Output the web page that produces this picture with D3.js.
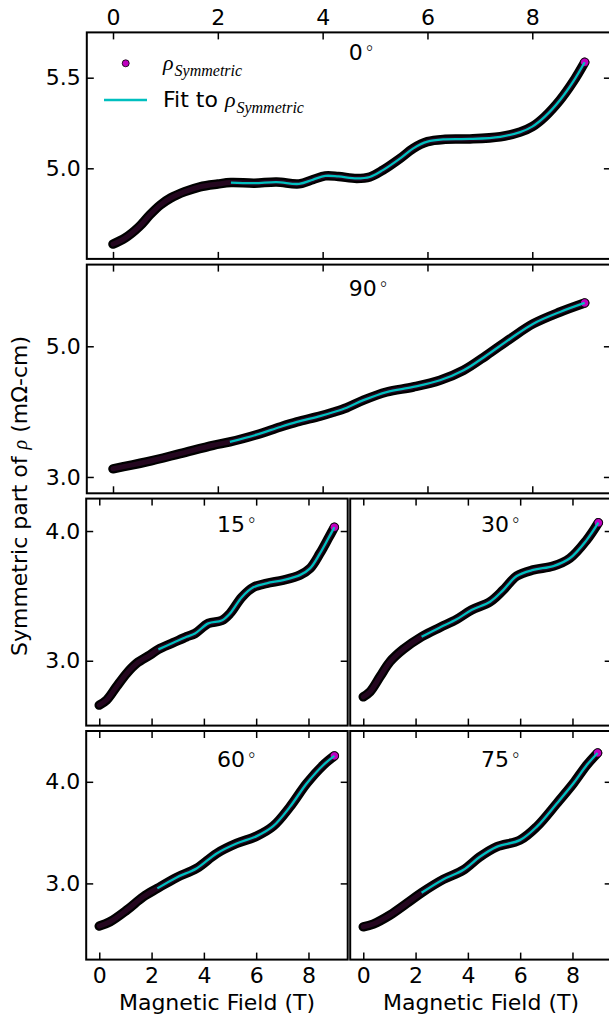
<!DOCTYPE html>
<html lang="en">
<head>
<meta charset="UTF-8">
<title>symmetric part of rho</title>
<script src="https://cdnjs.cloudflare.com/ajax/libs/d3/7.8.5/d3.min.js"></script>
<style>
  * { margin: 0; padding: 0; }
  body { background: #fff; }
  svg { display: block; font-family: "DejaVu Sans", sans-serif; }
  .spine { fill: none; stroke: #000; stroke-width: 2; }
  .axis path.domain { display: none; }
  .axis line { stroke: #000; stroke-width: 1.5; }
  .axis text { font-family: "DejaVu Sans", sans-serif; font-size: 22px; fill: #000; }
  .math { font-family: "Liberation Serif", serif; font-style: italic; }
</style>
</head>
<body>
<svg id="chart" width="609" height="1019"></svg>
<script>
// values (field in T, rho in mOhm-cm)
var fieldTicks = [0, 2, 4, 6, 8];
var fitStart = 2.2;

var field0 = [0, 0.23, 0.5, 0.7, 0.9, 1.1, 1.37, 1.66, 2.0, 2.25, 2.7, 3.12, 3.55, 3.82, 4.05, 4.3, 4.65, 4.9, 5.15, 5.48, 5.73, 6.0, 6.34, 6.81, 7.39, 7.77, 8.0, 8.24, 8.53, 8.78, 9.0];
var rho0   = [4.582, 4.615, 4.678, 4.742, 4.797, 4.836, 4.871, 4.898, 4.913, 4.921, 4.918, 4.924, 4.914, 4.938, 4.958, 4.955, 4.944, 4.952, 4.99, 5.055, 5.11, 5.147, 5.16, 5.162, 5.174, 5.20, 5.23, 5.285, 5.377, 5.478, 5.585];

var field90 = [0, 0.64, 1.28, 1.91, 2.23, 2.74, 3.19, 3.51, 3.95, 4.2, 4.46, 4.78, 5.22, 5.73, 6.24, 6.69, 7.13, 7.58, 8.02, 8.53, 9.0];
var rho90   = [3.125, 3.23, 3.357, 3.485, 3.536, 3.647, 3.765, 3.842, 3.93, 3.99, 4.06, 4.175, 4.30, 4.377, 4.48, 4.633, 4.863, 5.116, 5.346, 5.525, 5.663];

var field15 = [0, 0.28, 0.66, 1.05, 1.43, 1.94, 2.26, 2.83, 3.34, 3.66, 4.17, 4.68, 5.0, 5.45, 5.89, 6.4, 7.04, 7.67, 8.06, 8.44, 8.76, 8.99];
var rho15   = [2.658, 2.697, 2.80, 2.903, 2.98, 3.044, 3.088, 3.139, 3.185, 3.21, 3.288, 3.31, 3.365, 3.49, 3.566, 3.597, 3.622, 3.66, 3.712, 3.828, 3.944, 4.029];

var field30 = [0, 0.26, 0.64, 1.02, 1.53, 2.23, 2.93, 3.57, 4.14, 4.85, 5.35, 5.87, 6.5, 7.27, 7.9, 8.54, 8.99];
var rho30   = [2.722, 2.761, 2.877, 2.992, 3.088, 3.185, 3.257, 3.319, 3.391, 3.455, 3.545, 3.653, 3.70, 3.73, 3.79, 3.93, 4.064];

var field60 = [0, 0.41, 1.05, 1.68, 2.22, 2.96, 3.72, 4.49, 5.25, 6.02, 6.65, 7.29, 7.93, 8.56, 8.99];
var rho60   = [2.58, 2.622, 2.737, 2.868, 2.951, 3.059, 3.147, 3.295, 3.393, 3.465, 3.563, 3.753, 3.983, 4.163, 4.255];

var field75 = [0, 0.38, 1.02, 1.66, 2.23, 3.06, 3.82, 4.46, 5.1, 5.99, 6.63, 7.4, 8.03, 8.54, 8.96];
var rho75   = [2.573, 2.60, 2.688, 2.803, 2.908, 3.039, 3.131, 3.262, 3.36, 3.426, 3.557, 3.787, 3.983, 4.163, 4.284];

var angleLabels = ["0", "90", "15", "30", "60", "75"];

// layout per panel
var panels = [
  { field: field0,  rho: rho0,  yDomain: [4.5, 5.75],  yTicks: [5.0, 5.5], px: [86.8, 610.9], py: [32.4, 258.9], top: true,  bottom: false, left: true,  tagDy: 28 },
  { field: field90, rho: rho90, yDomain: [2.75, 6.25], yTicks: [3.0, 5.0], px: [86.8, 610.9], py: [264.6, 493.3], top: false, bottom: false, left: true,  tagDy: 31 },
  { field: field15, rho: rho15, yDomain: [2.5, 4.25],  yTicks: [3.0, 4.0], px: [86.2, 347.7], py: [498.6, 725.6], top: false, bottom: false, left: true,  tagDy: 33 },
  { field: field30, rho: rho30, yDomain: [2.5, 4.25],  yTicks: [3.0, 4.0], px: [350.2, 611.7], py: [498.6, 725.6], top: false, bottom: false, left: false, tagDy: 33 },
  { field: field60, rho: rho60, yDomain: [2.25, 4.5],  yTicks: [3.0, 4.0], px: [86.2, 347.7], py: [731.0, 959.6], top: false, bottom: true,  left: true,  tagDy: 36 },
  { field: field75, rho: rho75, yDomain: [2.25, 4.5],  yTicks: [3.0, 4.0], px: [350.2, 611.7], py: [731.0, 959.6], top: false, bottom: true,  left: false, tagDy: 36 }
];

var svg = d3.select("#chart");
var tickLen = 7;

panels.forEach(function(p, i) {
  var x = d3.scaleLinear().domain([-0.5, 9.5]).range(p.px);
  var y = d3.scaleLinear().domain(p.yDomain).range([p.py[1], p.py[0]]);
  var g = svg.append("g");

  var pts = p.field.map(function(f, j) { return [f, p.rho[j]]; });
  var fitPts = pts.filter(function(d) { return d[0] >= fitStart; });

  var line = d3.line()
    .x(function(d) { return x(d[0]); })
    .y(function(d) { return y(d[1]); })
    .curve(d3.curveCatmullRom.alpha(0.5));

  // dense data points -> dark band
  g.append("path").attr("d", line(pts))
    .attr("fill", "none").attr("stroke", "#000").attr("stroke-width", 9.5)
    .attr("stroke-linecap", "round").attr("stroke-linejoin", "round");
  g.append("path").attr("d", line(pts))
    .attr("fill", "none").attr("stroke", "#24061f").attr("stroke-width", 5)
    .attr("stroke-linecap", "round").attr("stroke-linejoin", "round");

  var last = pts[pts.length - 1];
  g.append("circle")
    .attr("cx", x(last[0])).attr("cy", y(last[1])).attr("r", 4.2)
    .attr("fill", "#bf00bf").attr("stroke", "#000").attr("stroke-width", 0.8);

  // fit
  g.append("path").attr("d", line(fitPts))
    .attr("fill", "none").attr("stroke", "#00bfbf").attr("stroke-width", 2.3);

  // axes (ticks pointing inward)
  var xTop = d3.axisTop(x).tickValues(fieldTicks).tickSizeInner(-tickLen).tickSizeOuter(0).tickPadding(7.4);
  if (!p.top) xTop.tickFormat("");
  g.append("g").attr("class", "axis").attr("transform", "translate(0," + p.py[0] + ")").call(xTop);

  var xBot = d3.axisBottom(x).tickValues(fieldTicks).tickSizeInner(-tickLen).tickSizeOuter(0).tickPadding(8);
  if (!p.bottom) xBot.tickFormat("");
  g.append("g").attr("class", "axis").attr("transform", "translate(0," + p.py[1] + ")").call(xBot);

  if (p.left) {
    var yL = d3.axisLeft(y).tickValues(p.yTicks).tickFormat(d3.format(".1f"))
      .tickSizeInner(-tickLen).tickSizeOuter(0).tickPadding(6);
    g.append("g").attr("class", "axis").attr("transform", "translate(" + p.px[0] + ",0)").call(yL);
  }
  var yR = d3.axisRight(y).tickValues(p.yTicks).tickFormat("").tickSizeInner(-tickLen).tickSizeOuter(0);
  g.append("g").attr("class", "axis").attr("transform", "translate(" + p.px[1] + ",0)").call(yR);

  g.append("rect").attr("class", "spine")
    .attr("x", p.px[0]).attr("y", p.py[0])
    .attr("width", p.px[1] - p.px[0]).attr("height", p.py[1] - p.py[0]);

  // angle label
  var t = g.append("text").attr("x", x(4.5)).attr("y", p.py[0] + p.tagDy)
    .attr("font-size", 22).text(angleLabels[i]);
  t.append("tspan").attr("dx", 2).attr("font-size", 19).attr("font-weight", 300).text("°");
});

// legend in the first panel
var leg = svg.append("g");
leg.append("circle").attr("cx", 125.7).attr("cy", 63.3).attr("r", 3.5)
  .attr("fill", "#bf00bf").attr("stroke", "#000").attr("stroke-width", 0.8);
var l1 = leg.append("text").attr("x", 163).attr("y", 70).attr("font-size", 22);
l1.append("tspan").attr("class", "math").text("ρ");
l1.append("tspan").attr("class", "math").attr("font-size", 16).attr("dy", 6).attr("dx", 1).text("Symmetric");

leg.append("line").attr("x1", 104).attr("x2", 147).attr("y1", 100).attr("y2", 100)
  .attr("stroke", "#00bfbf").attr("stroke-width", 2.3);
var l2 = leg.append("text").attr("x", 163).attr("y", 106.7).attr("font-size", 22);
l2.append("tspan").text("Fit to ");
l2.append("tspan").attr("class", "math").attr("dy", 0).text("ρ");
l2.append("tspan").attr("class", "math").attr("font-size", 16).attr("dy", 6).attr("dx", 1).text("Symmetric");

// axis titles
var yt = svg.append("text").attr("transform", "translate(27,496) rotate(-90)")
  .attr("text-anchor", "middle").attr("font-size", 22);
yt.append("tspan").text("Symmetric part of ");
yt.append("tspan").attr("class", "math").attr("font-size", 20).text("ρ");
yt.append("tspan").text(" (mΩ-cm)");

svg.append("text").attr("x", 217).attr("y", 1009.5).attr("text-anchor", "middle")
  .attr("font-size", 22).text("Magnetic Field (T)");
svg.append("text").attr("x", 481).attr("y", 1009.5).attr("text-anchor", "middle")
  .attr("font-size", 22).text("Magnetic Field (T)");
</script>
</body>
</html>
